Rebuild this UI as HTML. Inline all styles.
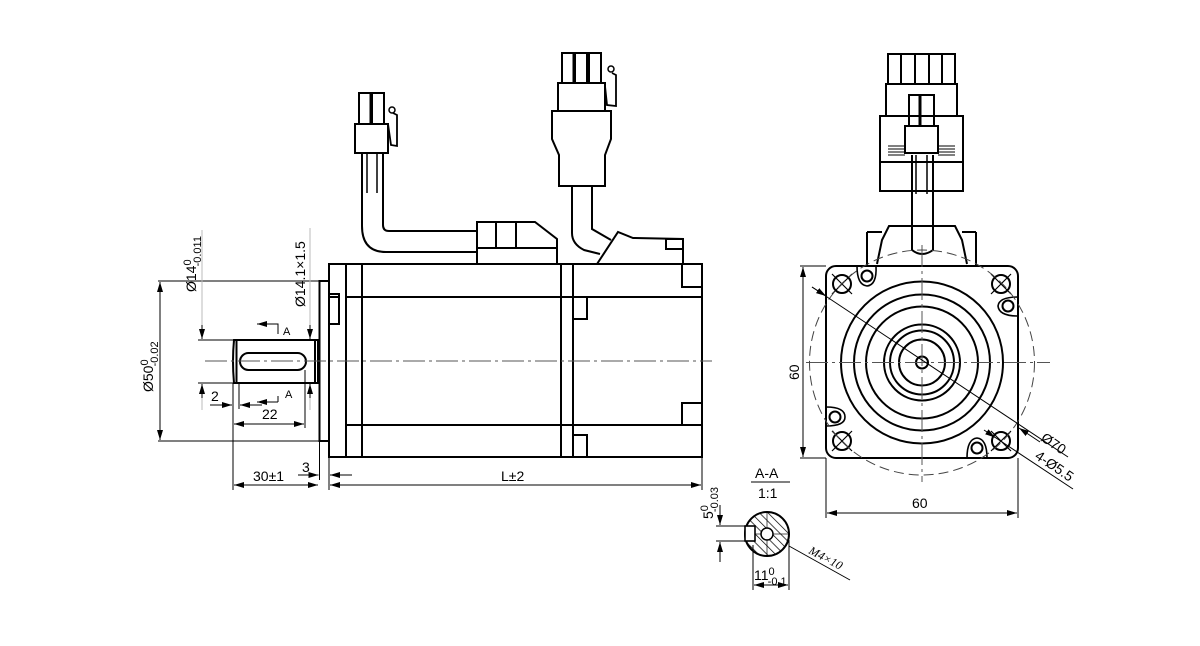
<!DOCTYPE html>
<html><head><meta charset="utf-8"><style>
html,body{margin:0;padding:0;background:#fff;}
svg{display:block;font-family:"Liberation Sans",Arial,sans-serif;}
</style></head><body>
<svg width="1200" height="646" viewBox="0 0 1200 646" xmlns="http://www.w3.org/2000/svg">
<defs>
<marker id="ar" viewBox="0 0 10 6" refX="10" refY="3" markerWidth="10" markerHeight="6" markerUnits="userSpaceOnUse" orient="auto"><path d="M0,0 L10,3 L0,6 z" fill="#000"/></marker>
<pattern id="hatch" width="6" height="6" patternUnits="userSpaceOnUse" patternTransform="rotate(-45)"><line x1="0" y1="0" x2="0" y2="6" stroke="#000" stroke-width="1.4"/></pattern>
</defs>
<g fill="none" stroke="#000" stroke-width="2">
<rect x="329" y="264" width="373" height="193"/>
<line x1="346" y1="264" x2="346" y2="457"/><line x1="362" y1="264" x2="362" y2="457"/>
<line x1="561" y1="264" x2="561" y2="457"/><line x1="573" y1="264" x2="573" y2="457"/>
<line x1="346" y1="297" x2="702" y2="297"/><line x1="346" y1="425" x2="702" y2="425"/>
<polyline points="682,264 682,287 702,287"/>
<polyline points="682,425 682,403 702,403"/>
<polyline points="573,319 587,319 587,297"/>
<polyline points="573,435 587,435 587,457"/>
<rect x="319.5" y="281" width="9.5" height="160"/>
<rect x="329" y="294" width="10" height="30"/><line x1="329" y1="297" x2="339" y2="297"/>
<path d="M234,340 L318,340 L318,383 L234,383 Q232,361 234,340 Z"/>
<line x1="236.5" y1="340" x2="236.5" y2="383"/><line x1="315" y1="340" x2="315" y2="383"/>
<rect x="240" y="353" width="66" height="17" rx="8.5"/>
<rect x="359" y="93" width="11.5" height="31"/><rect x="372" y="93" width="12" height="31"/>
<rect x="355" y="124" width="33" height="29"/>
<path d="M388,124 L391,145 L397,146 L397,115 L393,113" stroke-width="1.8"/>
<circle cx="392" cy="110" r="3" stroke-width="1.5"/>
<line x1="362" y1="153" x2="362" y2="193"/><line x1="383" y1="153" x2="383" y2="193"/>
<line x1="367" y1="153" x2="367" y2="193" stroke-width="1.5"/><line x1="377" y1="153" x2="377" y2="193" stroke-width="1.5"/>
<path d="M362,193 L362,226 Q362,252 386,252 L477,252"/>
<path d="M383,193 L383,225 Q383,231 389,231 L477,231"/>
<path d="M477,264 L477,222 L535,222 L557,239 L557,264"/>
<line x1="477" y1="248" x2="557" y2="248"/><line x1="496" y1="222" x2="496" y2="248"/><line x1="516" y1="222" x2="516" y2="248"/>
<rect x="562" y="53" width="11.5" height="30"/><rect x="575" y="53" width="12" height="30"/><rect x="589" y="53" width="12" height="30"/>
<rect x="558" y="83" width="47" height="28"/>
<path d="M605,86 L607,105 L616,106 L616,75 L612,73" stroke-width="1.8"/>
<circle cx="611" cy="69" r="3" stroke-width="1.5"/>
<path d="M552,111 L611,111 L611,139 L605,155 L605,186 L559,186 L559,155 L552,139 Z"/>
<path d="M572,186 L572,233 Q572,244 584,250 L600,254"/>
<path d="M592,186 L592,229 L611,240"/>
<path d="M597,264 L618,232 L633,238 L683,239 L683,264"/>
<rect x="666" y="239" width="17" height="10"/>
<rect x="826" y="266" width="192" height="192" rx="10"/>
<circle cx="922" cy="362.5" r="81"/><circle cx="922" cy="362.5" r="68"/><circle cx="922" cy="362.5" r="56"/>
<circle cx="922" cy="362.5" r="38"/><circle cx="922" cy="362.5" r="32"/><circle cx="922" cy="362.5" r="23"/><circle cx="922" cy="362.5" r="6"/>
<circle cx="842" cy="284" r="9"/><circle cx="1001" cy="284" r="9"/><circle cx="842" cy="441" r="9"/><circle cx="1001" cy="441" r="9"/>
<circle cx="867" cy="276" r="5.5"/><circle cx="1008" cy="306" r="5.5"/><circle cx="835" cy="417" r="5.5"/><circle cx="977" cy="448" r="5.5"/>
<path d="M857,266 Q857,285 867,286 Q877,285 876,266" stroke-width="1.6"/>
<path d="M1018,297 Q999,297 998,306 Q999,316 1018,316" stroke-width="1.6"/>
<path d="M826,407 Q845,407 845,417 Q845,426 826,426" stroke-width="1.6"/>
<path d="M967,458 Q967,439 977,438 Q987,439 987,458" stroke-width="1.6"/>
<line x1="867" y1="232" x2="867" y2="266"/><line x1="976" y1="232" x2="976" y2="266"/>
<line x1="867" y1="232" x2="882" y2="232"/><line x1="962" y1="232" x2="976" y2="232"/>
<polyline points="877,264 882,240 889,226 955,226 962,240 967,264"/>
<path d="M912,155 L912,250 Q922,258 933,250 L933,155"/>
<line x1="916" y1="155" x2="916" y2="194" stroke-width="1.5"/><line x1="927" y1="155" x2="927" y2="194" stroke-width="1.5"/>
<rect x="888" y="54" width="67" height="30"/>
<line x1="901" y1="54" x2="901" y2="84"/><line x1="915" y1="54" x2="915" y2="84"/><line x1="929" y1="54" x2="929" y2="84"/><line x1="942" y1="54" x2="942" y2="84"/>
<rect x="886" y="84" width="71" height="32"/>
<rect x="880" y="116" width="83" height="75"/><line x1="880" y1="162" x2="963" y2="162"/>
<rect x="909" y="95" width="25" height="32"/><line x1="920" y1="95" x2="920" y2="127" stroke-width="3"/>
<rect x="905" y="126" width="33" height="27" fill="#fff"/>
</g>
<g stroke="#000" stroke-width="1">
<line x1="888" y1="146" x2="905" y2="146"/><line x1="888" y1="149" x2="905" y2="149"/><line x1="888" y1="152" x2="905" y2="152"/><line x1="888" y1="155" x2="905" y2="155"/>
<line x1="938" y1="146" x2="955" y2="146"/><line x1="938" y1="149" x2="955" y2="149"/><line x1="938" y1="152" x2="955" y2="152"/><line x1="938" y1="155" x2="955" y2="155"/>
</g>
<g stroke="#000" stroke-width="1.2">
<path d="M832,274 L852,294 M832,294 L852,274"/>
<path d="M991,274 L1011,294 M991,294 L1011,274"/>
<path d="M832,431 L852,451 M832,451 L852,431"/>
<path d="M991,431 L1011,451 M991,451 L1011,431"/>
</g>
<g stroke="#555" stroke-width="1" stroke-dasharray="22,4,3,4" fill="none">
<line x1="205" y1="361" x2="712" y2="361"/>
<line x1="806" y1="362.5" x2="1050" y2="362.5"/>
<line x1="922" y1="245" x2="922" y2="482"/>
<line x1="750" y1="534" x2="790" y2="534" stroke-dasharray="none"/>
<line x1="767" y1="512" x2="767" y2="556" stroke-dasharray="none"/>
</g>
<circle cx="922" cy="362.5" r="112.5" fill="none" stroke="#444" stroke-width="1" stroke-dasharray="10,5"/>
<g stroke="#000" stroke-width="1" fill="none">
<line x1="158" y1="281" x2="319" y2="281"/><line x1="158" y1="441" x2="319" y2="441"/>
<line x1="160" y1="360" x2="160" y2="282" marker-end="url(#ar)"/><line x1="160" y1="360" x2="160" y2="440" marker-end="url(#ar)"/>
<line x1="198" y1="340" x2="233" y2="340"/><line x1="198" y1="383" x2="233" y2="383"/>
<line x1="202" y1="325" x2="202" y2="339" marker-end="url(#ar)"/><line x1="202" y1="398" x2="202" y2="384" marker-end="url(#ar)"/>
<line x1="310" y1="325" x2="310" y2="339" marker-end="url(#ar)"/><line x1="310" y1="398" x2="310" y2="384" marker-end="url(#ar)"/>
<line x1="202" y1="230" x2="202" y2="325" stroke="#bbb"/><line x1="310" y1="228" x2="310" y2="325" stroke="#bbb"/>
<line x1="202" y1="398" x2="202" y2="410" stroke="#bbb"/><line x1="310" y1="398" x2="310" y2="410" stroke="#bbb"/>
<polyline points="278,334 278,324 258,324"/><line x1="278" y1="324" x2="257" y2="324" marker-end="url(#ar)"/>
<polyline points="278,396 278,402"/><line x1="278" y1="402" x2="257" y2="402" marker-end="url(#ar)"/>
<line x1="233" y1="383" x2="233" y2="490"/><line x1="239" y1="383" x2="239" y2="409"/><line x1="305" y1="370" x2="305" y2="428"/>
<line x1="210" y1="405" x2="232" y2="405" marker-end="url(#ar)"/><line x1="262" y1="405" x2="240" y2="405" marker-end="url(#ar)"/>
<line x1="269" y1="424" x2="234" y2="424" marker-end="url(#ar)"/><line x1="269" y1="424" x2="304" y2="424" marker-end="url(#ar)"/>
<line x1="329" y1="457" x2="329" y2="490"/><line x1="319.5" y1="441" x2="319.5" y2="480"/><line x1="702" y1="457" x2="702" y2="490"/>
<line x1="280" y1="485" x2="234" y2="485" marker-end="url(#ar)"/><line x1="280" y1="485" x2="318" y2="485" marker-end="url(#ar)"/>
<line x1="298" y1="475" x2="318.5" y2="475" marker-end="url(#ar)"/><line x1="352" y1="475" x2="330" y2="475" marker-end="url(#ar)"/>
<line x1="515" y1="485" x2="330" y2="485" marker-end="url(#ar)"/><line x1="515" y1="485" x2="701" y2="485" marker-end="url(#ar)"/>
<line x1="800" y1="266" x2="826" y2="266"/><line x1="800" y1="458" x2="826" y2="458"/>
<line x1="803" y1="362" x2="803" y2="267" marker-end="url(#ar)"/><line x1="803" y1="362" x2="803" y2="457" marker-end="url(#ar)"/>
<line x1="826" y1="458" x2="826" y2="518"/><line x1="1018" y1="458" x2="1018" y2="518"/>
<line x1="922" y1="513" x2="827" y2="513" marker-end="url(#ar)"/><line x1="922" y1="513" x2="1017" y2="513" marker-end="url(#ar)"/>
<line x1="812" y1="287" x2="1068" y2="457"/>
<line x1="812" y1="287" x2="826" y2="296" marker-end="url(#ar)"/>
<line x1="1040" y1="442" x2="1019" y2="428" marker-end="url(#ar)"/>
<line x1="984" y1="430" x2="1073" y2="489"/>
<line x1="990" y1="434" x2="995" y2="437.5" marker-end="url(#ar)"/>
<line x1="751" y1="482" x2="790" y2="482"/>
<line x1="716" y1="526" x2="746" y2="526"/><line x1="716" y1="541" x2="746" y2="541"/>
<line x1="720" y1="505" x2="720" y2="525" marker-end="url(#ar)"/><line x1="720" y1="562" x2="720" y2="542" marker-end="url(#ar)"/>
<line x1="753" y1="545" x2="753" y2="590"/><line x1="789" y1="540" x2="789" y2="590"/>
<line x1="771" y1="585" x2="754" y2="585" marker-end="url(#ar)"/><line x1="771" y1="585" x2="788" y2="585" marker-end="url(#ar)"/>
<line x1="789" y1="546" x2="850" y2="580"/>
</g>
<circle cx="767" cy="534" r="22" fill="url(#hatch)" stroke="#000" stroke-width="2"/>
<rect x="745" y="526" width="10" height="15" fill="#fff" stroke="#000" stroke-width="1.6"/>
<circle cx="767" cy="534" r="6" fill="#fff" stroke="#000" stroke-width="1.5"/>
<g font-size="14" fill="#000">
<text transform="translate(153,392) rotate(-90)">Ø50<tspan font-size="11" dy="-5">0</tspan><tspan font-size="11" dx="-7" dy="10">-0.02</tspan></text>
<text transform="translate(196,292) rotate(-90)">Ø14<tspan font-size="11" dy="-5">0</tspan><tspan font-size="11" dx="-7" dy="10">-0.011</tspan></text>
<text transform="translate(305,307) rotate(-90)">Ø14.1×1.5</text>
<text x="283" y="335" font-size="11">A</text>
<text x="285" y="398" font-size="11">A</text>
<text x="211" y="401">2</text>
<text x="262" y="419">22</text>
<text x="253" y="481">30±1</text>
<text x="302" y="472">3</text>
<text x="501" y="481">L±2</text>
<text transform="translate(799,380) rotate(-90)">60</text>
<text x="912" y="508">60</text>
<text transform="translate(1040,440) rotate(34)">Ø70</text>
<text transform="translate(1034,458) rotate(34)">4-Ø5.5</text>
<text x="755" y="478">A-A</text>
<text x="758" y="498">1:1</text>
<text transform="translate(713,519) rotate(-90)">5<tspan font-size="11" dy="-5">0</tspan><tspan font-size="11" dx="-7" dy="10">-0.03</tspan></text>
<text x="754" y="580">11<tspan font-size="11" dy="-5">0</tspan><tspan font-size="11" dx="-7" dy="10">-0.1</tspan></text>
<text transform="translate(808,553) rotate(28)" font-family="Liberation Serif,serif" font-style="italic" font-size="12">M4×10</text>
</g>
</svg>
</body></html>
